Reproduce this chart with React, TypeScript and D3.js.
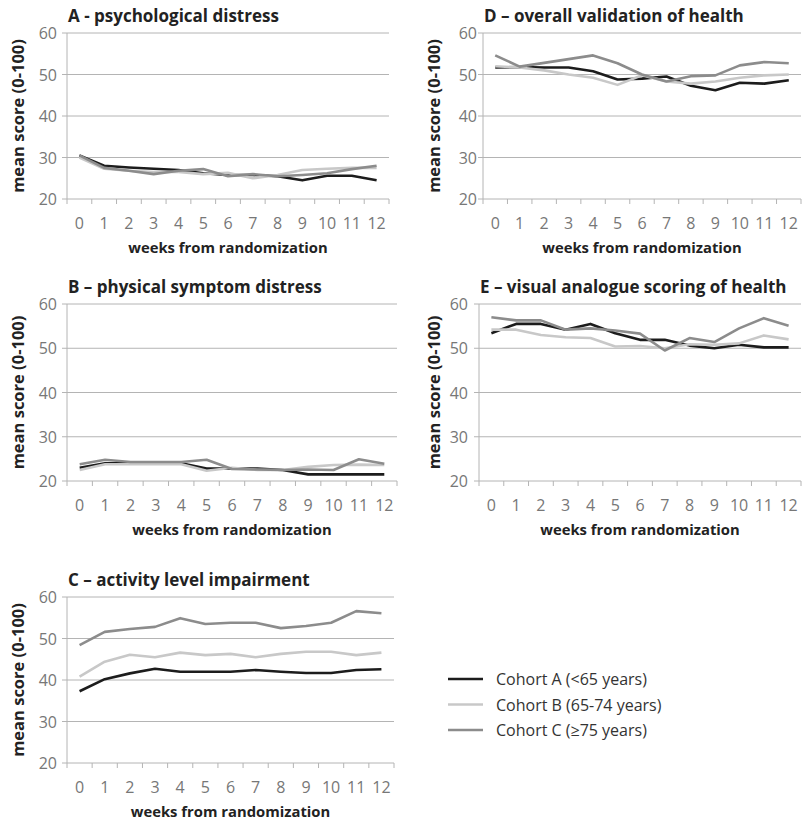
import React from "react";
import * as d3 from "d3";

const weeks = [0, 1, 2, 3, 4, 5, 6, 7, 8, 9, 10, 11, 12];
const yTicks = [20, 30, 40, 50, 60];
const cohortNames = ["Cohort A (<65 years)", "Cohort B (65-74 years)", "Cohort C (\u226575 years)"];
const cohortColors = ["#1c1c1c", "#c8c8c8", "#8c8c8c"];

const titleA = "A - psychological distress";
const titleB = "B \u2013 physical symptom distress";
const titleC = "C \u2013 activity level impairment";
const titleD = "D \u2013 overall validation of health";
const titleE = "E \u2013 visual analogue scoring of health";

const psychA = [30.5, 28, 27.6, 27.3, 27, 26.2, 25.8, 25.8, 25.5, 24.5, 25.6, 25.6, 24.5];
const psychB = [30, 27.3, 26.8, 26.5, 26.5, 26, 26.3, 25, 25.8, 27, 27.3, 27.5, 27.5];
const psychC = [30.5, 27.5, 26.8, 26, 26.8, 27.2, 25.5, 26, 25.5, 25.8, 26.2, 27.2, 28];

const physA = [23, 24, 24, 24, 24, 22.8, 22.8, 22.8, 22.5, 21.5, 21.5, 21.5, 21.5];
const physB = [22.5, 23.8, 23.8, 23.8, 23.8, 22.3, 23, 22.5, 22.5, 23.2, 23.6, 23.7, 23.6];
const physC = [23.8, 24.8, 24.3, 24.3, 24.3, 24.8, 22.7, 22.6, 22.5, 22.6, 22.5, 24.9, 23.9];

const actA = [37.3, 40.2, 41.6, 42.7, 42, 42, 42, 42.4, 42, 41.7, 41.7, 42.4, 42.6];
const actB = [40.8, 44.4, 46.1, 45.5, 46.6, 46, 46.3, 45.5, 46.3, 46.8, 46.8, 46, 46.6];
const actC = [48.4, 51.6, 52.3, 52.8, 54.9, 53.5, 53.8, 53.8, 52.5, 53, 53.8, 56.6, 56.1];

const overA = [51.7, 51.8, 51.7, 51.7, 50.8, 48.8, 49, 49.5, 47.3, 46.2, 48, 47.8, 48.6];
const overB = [52, 51.7, 51, 50, 49.2, 47.5, 49.8, 48.3, 47.8, 48.3, 49.2, 49.8, 50];
const overC = [54.6, 51.9, 52.8, 53.7, 54.6, 52.7, 50, 48.3, 49.6, 49.8, 52.2, 53, 52.7];

const vasA = [53.4, 55.5, 55.5, 54.2, 55.5, 53.4, 51.9, 51.9, 50.6, 50, 50.8, 50.2, 50.2];
const vasB = [54.2, 54.2, 53, 52.5, 52.3, 50.4, 50.5, 50, 50.9, 50.8, 51.1, 52.9, 52];
const vasC = [57, 56.3, 56.3, 54.2, 54.5, 54, 53.3, 49.5, 52.3, 51.4, 54.5, 56.8, 55.1];

const FONT = "'Open Sans', Lato, sans-serif";

type PanelProps = {
  title: string;
  series: number[][];
  left: number;
  right: number;
  top: number;
  bottom: number;
  tickX: number;
  labelX: number;
};

function Panel({ title, series, left, right, top, bottom, tickX, labelX }: PanelProps) {
  const x = d3.scaleBand<number>().domain(weeks).range([left, right]).padding(0);
  const y = d3.scaleLinear().domain([20, 60]).range([bottom, top]);
  const bw = x.bandwidth();
  const cx = (w: number) => (x(w) as number) + bw / 2;
  const line = d3
    .line<number>()
    .x((_, i) => cx(weeks[i]))
    .y((d) => y(d));
  const edges = weeks.map((w) => x(w) as number).concat([right]);
  return (
    <g>
      <text
        x={left + 1}
        y={top - 11}
        fontFamily={FONT}
        fontWeight={700}
        fontSize={17}
        fill="#222"
      >
        {title}
      </text>
      {yTicks.map((t) => (
        <g key={t}>
          <line x1={left - 5} x2={right} y1={y(t)} y2={y(t)} stroke="#b4b4b4" strokeWidth={1} />
          <text
            x={tickX}
            y={y(t)}
            textAnchor="end"
            dominantBaseline="central"
            fontFamily={FONT}
            fontWeight={400}
            fontSize={16}
            fill="#777"
          >
            {t}
          </text>
        </g>
      ))}
      <line x1={left} x2={left} y1={top} y2={bottom} stroke="#b4b4b4" strokeWidth={1} />
      {edges.map((e, i) => (
        <line key={i} x1={e} x2={e} y1={bottom} y2={bottom + 5} stroke="#b4b4b4" strokeWidth={1} />
      ))}
      {weeks.map((w) => (
        <text
          key={w}
          x={cx(w)}
          y={bottom + 23.5}
          textAnchor="middle"
          dominantBaseline="central"
          fontFamily={FONT}
          fontWeight={400}
          fontSize={16}
          fill="#777"
        >
          {w}
        </text>
      ))}
      <text
        x={(left + right) / 2}
        y={bottom + 48}
        textAnchor="middle"
        dominantBaseline="central"
        fontFamily={FONT}
        fontWeight={700}
        fontSize={14.8}
        fill="#222"
      >
        weeks from randomization
      </text>
      <text
        transform={`translate(${labelX},${(top + bottom) / 2}) rotate(-90)`}
        textAnchor="middle"
        dominantBaseline="central"
        fontFamily={FONT}
        fontWeight={700}
        fontSize={16.5}
        fill="#222"
      >
        mean score (0-100)
      </text>
      {series.map((s, i) => (
        <path
          key={i}
          d={line(s) || ""}
          fill="none"
          stroke={cohortColors[i]}
          strokeWidth={2.6}
          strokeLinejoin="round"
        />
      ))}
    </g>
  );
}

export default function App() {
  return (
    <svg
      width={802}
      height={822}
      style={{ position: "absolute", left: 0, top: 0, background: "#fff" }}
    >
      <rect width={802} height={822} fill="#fff" />
      <Panel title={titleA} series={[psychA, psychB, psychC]} left={67} right={389} top={33} bottom={199} tickX={57} labelX={17} />
      <Panel title={titleD} series={[overA, overB, overC]} left={483} right={801} top={33} bottom={199} tickX={477} labelX={433} />
      <Panel title={titleB} series={[physA, physB, physC]} left={67} right={397} top={304} bottom={481} tickX={57} labelX={17} />
      <Panel title={titleE} series={[vasA, vasB, vasC]} left={479} right={801} top={304} bottom={481} tickX={468} labelX={433} />
      <Panel title={titleC} series={[actA, actB, actC]} left={67} right={394} top={597} bottom={763} tickX={57} labelX={17} />
      {cohortNames.map((n, i) => (
        <g key={n}>
          <line x1={448} x2={483} y1={679 + i * 25.5} y2={679 + i * 25.5} stroke={cohortColors[i]} strokeWidth={2.6} />
          <text
            x={496}
            y={679 + i * 25.5}
            dominantBaseline="central"
            fontFamily={FONT}
            fontWeight={400}
            fontSize={16}
            fill="#333"
          >
            {n}
          </text>
        </g>
      ))}
    </svg>
  );
}
